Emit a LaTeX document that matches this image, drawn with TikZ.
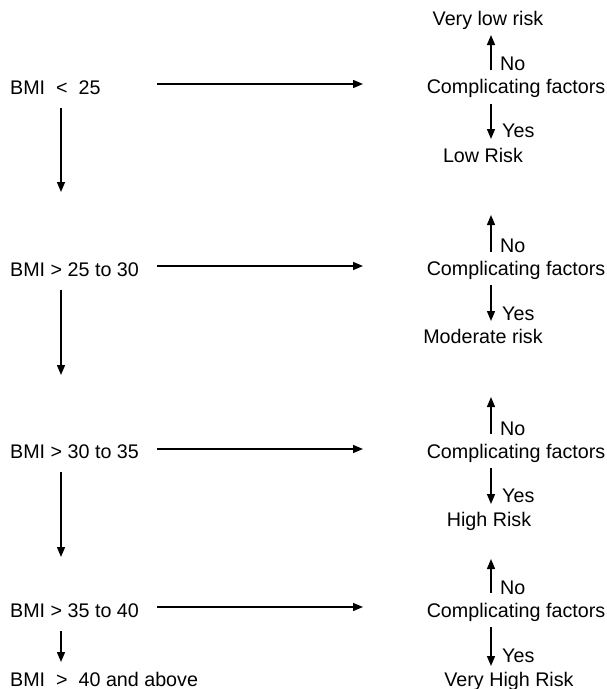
\documentclass[tikz,border=0pt]{standalone}
\usepackage{fontspec}
\setmainfont{Liberation Sans}
\usetikzlibrary{arrows.meta}

\begin{document}
\begin{tikzpicture}[x=1pt, y=-1pt, >={Triangle[length=10pt,width=8pt]},
  every node/.style={inner sep=0pt, font=\fontsize{19.7}{22}\selectfont},
  bmi/.style={anchor=base west},
  risk/.style={anchor=base},
  ans/.style={anchor=base west},
  flow/.style={->, line width=1.4pt}]
  \useasboundingbox (0,0) rectangle (607,689);

  % BMI classes
  \node[bmi] (bmi1) at (10,94) {BMI\ \ <\ \ 25};
  \node[bmi] (bmi2) at (10,276) {BMI > 25 to 30};
  \node[bmi] (bmi3) at (10,458) {BMI > 30 to 35};
  \node[bmi] (bmi4) at (10,617) {BMI > 35 to 40};
  \node[bmi] (bmi5) at (10,686) {BMI\ \ >\ \ 40 and above};

  % Complicating factors
  \node[risk] (cf1) at (516,93) {Complicating factors};
  \node[risk] (cf2) at (516,275) {Complicating factors};
  \node[risk] (cf3) at (516,458) {Complicating factors};
  \node[risk] (cf4) at (516,617) {Complicating factors};

  % Risk levels
  \node[risk] (vlow) at (488,25) {Very low risk};
  \node[risk] (low) at (483,162) {Low Risk};
  \node[risk] (mod) at (483,343) {Moderate risk};
  \node[risk] (high) at (489,526) {High Risk};
  \node[risk] (vhigh) at (509,686) {Very High Risk};

  % Ends of the arrows
  \coordinate (h1a) at (157,84);  \coordinate (h1b) at (363,84);
  \coordinate (h2a) at (157,266); \coordinate (h2b) at (363,266);
  \coordinate (h3a) at (157,449); \coordinate (h3b) at (363,449);
  \coordinate (h4a) at (157,607); \coordinate (h4b) at (363,607);
  \coordinate (v1a) at (61,108);  \coordinate (v1b) at (61,192);
  \coordinate (v2a) at (61,290);  \coordinate (v2b) at (61,375);
  \coordinate (v3a) at (61,472);  \coordinate (v3b) at (61,557);
  \coordinate (v4a) at (61,631);  \coordinate (v4b) at (61,662);
  \coordinate (n1a) at (491,70);  \coordinate (n1b) at (491,35);
  \coordinate (n2a) at (491,252); \coordinate (n2b) at (491,215);
  \coordinate (n3a) at (491,434); \coordinate (n3b) at (491,397);
  \coordinate (n4a) at (491,593); \coordinate (n4b) at (491,559);
  \coordinate (y1a) at (491,104); \coordinate (y1b) at (491,139);
  \coordinate (y2a) at (491,285); \coordinate (y2b) at (491,321);
  \coordinate (y3a) at (491,468); \coordinate (y3b) at (491,504);
  \coordinate (y4a) at (491,627); \coordinate (y4b) at (491,666);

  % Arrows to complicating factors
  \foreach \i in {1,...,4}
    \draw[flow] (h\i a) -- (h\i b);

  % Arrows down the BMI classes
  \foreach \i in {1,...,4}
    \draw[flow] (v\i a) -- (v\i b);

  % No / Yes branches
  \foreach \i/\ny/\yy in {1/70/137, 2/252/320, 3/435/502, 4/594/662} {
    \draw[flow] (n\i a) -- (n\i b);
    \node[ans] (no\i) at (500,\ny) {No};
    \draw[flow] (y\i a) -- (y\i b);
    \node[ans] (yes\i) at (502,\yy) {Yes};
  }
\end{tikzpicture}
\end{document}
